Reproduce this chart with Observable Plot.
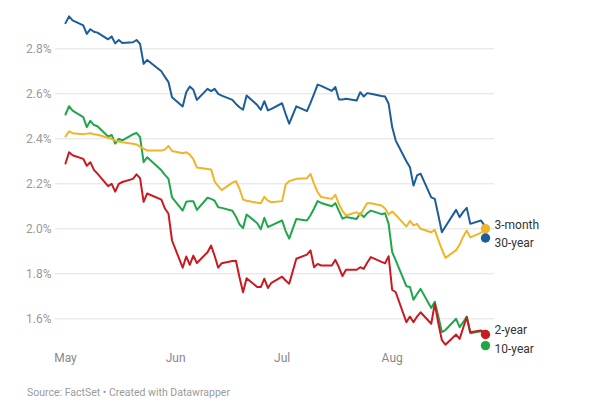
<!DOCTYPE html>
<html>
<head>
<meta charset="utf-8">
<script src="https://cdn.jsdelivr.net/npm/d3@7"></script>
<script src="https://cdn.jsdelivr.net/npm/@observablehq/plot@0.6"></script>
<style>
  body { margin: 0; background: #fff; font-family: Roboto, sans-serif; }
  #caption { font-size: 10.5px; color: #9a9a9a; padding-left: 27px; margin-top: 6px; line-height: 14px; }
</style>
</head>
<body>
<div id="chart"></div>
<div id="caption">Source: FactSet • Created with Datawrapper</div>
<script>
// Trading days, May 1 – Aug 27, 2019
const dates = [
  "2019-05-01","2019-05-02","2019-05-03","2019-05-06","2019-05-07","2019-05-08","2019-05-09","2019-05-10",
  "2019-05-13","2019-05-14","2019-05-15","2019-05-16","2019-05-17","2019-05-20","2019-05-21","2019-05-22",
  "2019-05-23","2019-05-24","2019-05-28","2019-05-29","2019-05-30","2019-05-31",
  "2019-06-03","2019-06-04","2019-06-05","2019-06-06","2019-06-07","2019-06-10","2019-06-11","2019-06-12",
  "2019-06-13","2019-06-14","2019-06-17","2019-06-18","2019-06-19","2019-06-20","2019-06-21","2019-06-24",
  "2019-06-25","2019-06-26","2019-06-27","2019-06-28",
  "2019-07-01","2019-07-02","2019-07-03","2019-07-05","2019-07-08","2019-07-09","2019-07-10","2019-07-11",
  "2019-07-12","2019-07-15","2019-07-16","2019-07-17","2019-07-18","2019-07-19","2019-07-22","2019-07-23",
  "2019-07-24","2019-07-25","2019-07-26","2019-07-29","2019-07-30","2019-07-31",
  "2019-08-01","2019-08-02","2019-08-05","2019-08-06","2019-08-07","2019-08-08","2019-08-09","2019-08-12",
  "2019-08-13","2019-08-14","2019-08-15","2019-08-16","2019-08-19","2019-08-20","2019-08-21","2019-08-22",
  "2019-08-23","2019-08-26","2019-08-27"
];

const thirtyYear = [
  2.914,2.944,2.926,2.904,2.866,2.887,2.876,2.872,2.842,2.855,2.824,2.839,2.826,2.829,2.839,2.822,2.733,2.750,2.700,2.675,2.652,2.585,
  2.544,2.607,2.632,2.618,2.573,2.622,2.612,2.622,2.600,2.592,2.573,2.555,2.540,2.529,2.592,2.550,2.529,2.567,2.526,2.533,
  2.558,2.510,2.467,2.544,2.523,2.560,2.600,2.641,2.635,2.613,2.630,2.575,2.575,2.578,2.570,2.607,2.588,2.603,2.600,2.590,2.588,2.556,
  2.452,2.392,2.300,2.274,2.192,2.237,2.245,2.140,2.133,2.060,1.985,2.010,2.084,2.052,2.075,2.093,2.022,2.037,2.015
];

const threeMonth = [
  2.410,2.433,2.425,2.420,2.423,2.425,2.420,2.418,2.405,2.400,2.392,2.388,2.385,2.378,2.375,2.365,2.356,2.348,2.348,2.352,2.368,2.346,
  2.336,2.340,2.330,2.310,2.272,2.266,2.264,2.210,2.190,2.172,2.205,2.212,2.178,2.130,2.125,2.116,2.114,2.142,2.125,2.118,
  2.123,2.197,2.212,2.222,2.225,2.244,2.200,2.163,2.141,2.133,2.151,2.110,2.080,2.059,2.074,2.059,2.089,2.114,2.114,2.104,2.090,2.064,
  2.077,2.062,2.010,2.035,2.015,2.022,2.000,1.985,1.995,1.950,1.908,1.871,1.905,1.930,1.965,1.992,1.962,1.982,1.995
];

const tenYear = [
  2.508,2.545,2.525,2.496,2.452,2.480,2.461,2.456,2.410,2.417,2.379,2.400,2.393,2.420,2.426,2.407,2.296,2.318,2.260,2.240,2.222,2.140,
  2.081,2.120,2.123,2.123,2.084,2.138,2.133,2.125,2.096,2.093,2.080,2.054,2.020,2.003,2.064,2.025,1.998,2.049,2.008,2.015,
  2.037,1.990,1.956,2.044,2.037,2.060,2.090,2.123,2.115,2.100,2.114,2.080,2.045,2.052,2.044,2.069,2.052,2.070,2.081,2.065,2.069,2.022,
  1.896,1.860,1.745,1.741,1.685,1.710,1.733,1.648,1.676,1.610,1.541,1.550,1.600,1.563,1.585,1.610,1.536,1.545,1.540
];

const twoYear = [
  2.290,2.340,2.327,2.311,2.280,2.296,2.262,2.245,2.190,2.200,2.165,2.200,2.208,2.222,2.242,2.225,2.120,2.157,2.130,2.090,2.067,1.948,
  1.827,1.877,1.840,1.881,1.848,1.896,1.926,1.880,1.827,1.847,1.857,1.858,1.785,1.718,1.780,1.741,1.741,1.778,1.737,1.760,
  1.787,1.770,1.756,1.867,1.885,1.904,1.829,1.844,1.837,1.837,1.862,1.829,1.790,1.818,1.818,1.829,1.822,1.850,1.874,1.853,1.847,1.878,
  1.729,1.718,1.585,1.610,1.585,1.610,1.629,1.578,1.667,1.580,1.505,1.485,1.530,1.511,1.560,1.607,1.540,1.548,1.540
];

const seriesNames = ["30-year", "10-year", "3-month", "2-year"];
const seriesColors = ["#1c5d99", "#1fa64a", "#f0b429", "#c91a20"];
const seriesValues = [thirtyYear, tenYear, threeMonth, twoYear];

// end labels (Datawrapper's collision-adjusted positions)
const labelNames = ["3-month", "30-year", "2-year", "10-year"];
const labelDotValues = [2.001, 1.959, 1.530, 1.481];
const labelTextValues = [2.018, 1.935, 1.551, 1.467];

const yTicks = [1.6, 1.8, 2.0, 2.2, 2.4, 2.6, 2.8];
const monthTicks = ["2019-05-01", "2019-06-01", "2019-07-01", "2019-08-01"];

const parse = d3.utcParse("%Y-%m-%d");
const rows = seriesNames.flatMap((name, s) =>
  dates.map((d, i) => ({ date: parse(d), value: seriesValues[s][i], name }))
);
const lastDate = parse(dates[dates.length - 1]);
const labels = labelNames.map((name, i) => ({
  date: lastDate, name, dot: labelDotValues[i], text: labelTextValues[i]
}));

const chart = Plot.plot({
  width: 607,
  height: 380,
  marginLeft: 65,
  marginRight: 123,
  marginTop: 25.8,
  marginBottom: 39.2,
  style: { fontFamily: "Roboto, sans-serif", background: "#fff", overflow: "visible" },
  x: { type: "utc", domain: [parse(dates[0]), lastDate] },
  y: { domain: [1.5, 2.9] },
  color: { domain: seriesNames, range: seriesColors },
  marks: [
    Plot.ruleY(yTicks, { stroke: "#e2e2e2", strokeWidth: 1, insetLeft: -10, insetRight: -10 }),
    Plot.axisY(yTicks, {
      tickSize: 0, tickPadding: 14, label: null, fontSize: 12, fill: "#999",
      tickFormat: d => d.toFixed(1) + "%"
    }),
    Plot.axisX(monthTicks.map(parse), {
      tickSize: 0, tickPadding: 12.5, label: null, fontSize: 12, fill: "#888",
      tickFormat: d3.utcFormat("%b")
    }),
    Plot.line(rows, { x: "date", y: "value", z: "name", stroke: "name", strokeWidth: 2 }),
    Plot.dot(labels, { x: "date", y: "dot", fill: "name", r: 4.7, dx: 1 }),
    Plot.text(labels, {
      x: "date", y: "text", text: "name", dx: 10, textAnchor: "start",
      fill: "#333", fontSize: 12
    })
  ]
});
document.getElementById("chart").appendChild(chart);
</script>
</body>
</html>
